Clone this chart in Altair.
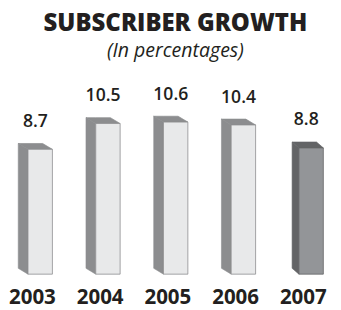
import altair as alt
import pandas as pd

years = ["2003", "2004", "2005", "2006", "2007"]
values = [8.7, 10.5, 10.6, 10.4, 8.8]
highlight = [0, 0, 0, 0, 1]

df = pd.DataFrame({"year": years, "value": values, "hl": highlight,
                   "idx": list(range(len(years)))})

PXX = 69.4   # px per category step
PXY = 14.7   # px per percentage point
W, H = 333, 242
x_lo = -33 / PXX
y_lo = -33 / PXY
xs = alt.Scale(domain=[x_lo, x_lo + W / PXX], range=[0, W], nice=False, zero=False)
ys = alt.Scale(domain=[y_lo, y_lo + H / PXY], range=[H, 0], nice=False, zero=False)

hw = 12.5 / PXX
dyd = 6 / PXY

base = alt.Chart(df).transform_calculate(
    xf0=f"datum.idx - {hw}",
    xf1=f"datum.idx + {hw}",
    dep=f"datum.hl == 1 ? {7 / PXX} : {10 / PXX}",
)

front = base.mark_bar(strokeWidth=0.8).encode(
    x=alt.X("xf0:Q", scale=xs, axis=None),
    x2="xf1:Q",
    y=alt.Y("value:Q", scale=ys, axis=None),
    y2=alt.datum(0),
    color=alt.Color("hl:N", scale=alt.Scale(domain=[0, 1], range=["#e8e9ea", "#939598"]), legend=None),
    stroke=alt.Stroke("hl:N", scale=alt.Scale(domain=[0, 1], range=["#c9cacb", "#8a8b8d"]), legend=None),
)

# side face: parallelogram with vertical edges (back edge, front edge)
side = base.transform_calculate(k="[0, 1]").transform_flatten(["k"]).transform_calculate(
    sx="datum.xf0 - (1 - datum.k) * datum.dep",
    sy=f"datum.value + (1 - datum.k) * {dyd}",
    sy2=f"(1 - datum.k) * {dyd}",
).mark_area(strokeWidth=0.6).encode(
    x=alt.X("sx:Q", scale=xs, axis=None),
    y=alt.Y("sy:Q", scale=ys, axis=None),
    y2="sy2:Q",
    detail="year:N",
    fill=alt.Fill("hl:N", scale=alt.Scale(domain=[0, 1], range=["#8c8d8f", "#636466"]), legend=None),
    stroke=alt.Stroke("hl:N", scale=alt.Scale(domain=[0, 1], range=["#8c8d8f", "#636466"]), legend=None),
)

# top cap: quadrilateral drawn as a vertical area through four x positions
cap = base.transform_calculate(k="[0, 1, 2, 3]").transform_flatten(["k"]).transform_calculate(
    cx="datum.k == 0 ? datum.xf0 - datum.dep : datum.k == 1 ? datum.xf0 : "
       "datum.k == 2 ? datum.xf1 - datum.dep : datum.xf1",
    cy=f"datum.k == 3 ? datum.value : datum.value + {dyd}",
    cy2=f"datum.k == 0 ? datum.value + {dyd} : datum.value",
).mark_area(strokeWidth=0.7).encode(
    x=alt.X("cx:Q", scale=xs, axis=None),
    y=alt.Y("cy:Q", scale=ys, axis=None),
    y2="cy2:Q",
    detail="year:N",
    fill=alt.Fill("hl:N", scale=alt.Scale(domain=[0, 1], range=["#d0d1d3", "#acadaf"]), legend=None),
    stroke=alt.Stroke("hl:N", scale=alt.Scale(domain=[0, 1], range=["#bebfc1", "#9c9d9f"]), legend=None),
)

vlabels = base.mark_text(font="Open Sans", fontWeight=600, fontSize=18, dy=-23, dx=-5,
                         baseline="alphabetic", align="center", color="#231f20").encode(
    x=alt.X("idx:Q", scale=xs, axis=None),
    y=alt.Y("value:Q", scale=ys, axis=None),
    text=alt.Text("value:Q", format=".1f"),
)

ylabels = base.mark_text(font="Open Sans", fontWeight=700, fontSize=21, dx=-8,
                         baseline="alphabetic", align="center", color="#231f20").encode(
    x=alt.X("idx:Q", scale=xs, axis=None),
    y=alt.datum(-31 / PXY, scale=ys),
    text="year:N",
)

chart = alt.layer(side, cap, front, vlabels, ylabels).properties(
    width=W, height=H,
    title=alt.TitleParams(
        "SUBSCRIBER GROWTH",
        subtitle="(In percentages)",
        anchor="middle", dx=5,
        font="Open Sans", fontSize=24.5, fontWeight=800, color="#231f20",
        subtitleFont="Open Sans", subtitleFontSize=20, subtitleFontStyle="italic",
        subtitleColor="#231f20", subtitlePadding=6, offset=8,
    ),
    autosize=alt.AutoSizeParams(type="none"),
    padding={"left": 0, "top": 60, "right": 0, "bottom": 0},
).configure_view(stroke=None)

chart.save("out.html", embed_options={"renderer": "svg", "actions": False})
